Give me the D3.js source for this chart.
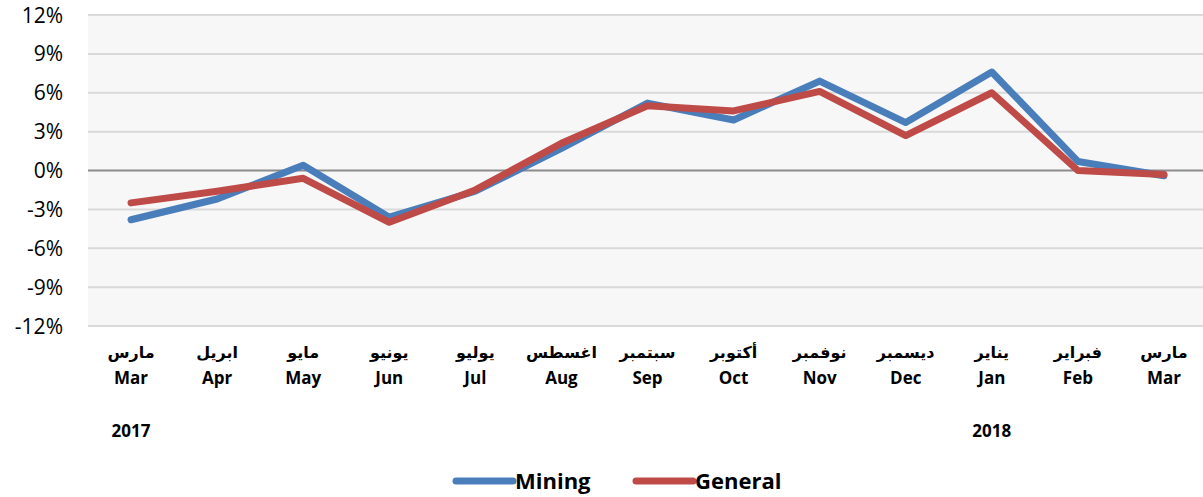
<!DOCTYPE html>
<meta charset="utf-8">
<style>
body { margin: 0; background: #fff; }
svg text { font-family: "Open Sans", "Liberation Sans", sans-serif; fill: #000; }
.grid line { stroke: #d9d9d9; stroke-width: 2; }
</style>
<body>
<script src="https://d3js.org/d3.v7.min.js"></script>
<script>
// data
const monthsEn = ["Mar", "Apr", "May", "Jun", "Jul", "Aug", "Sep", "Oct", "Nov", "Dec", "Jan", "Feb", "Mar"];
const monthsAr = ["مارس", "ابريل", "مايو", "يونيو", "يوليو", "اغسطس", "سبتمبر", "أكتوبر", "نوفمبر", "ديسمبر", "يناير", "فبراير", "مارس"];
const mining  = [-3.8, -2.2, 0.4, -3.6, -1.6, 1.7, 5.2, 3.9, 6.9, 3.7, 7.6, 0.7, -0.4];
const general = [-2.5, -1.6, -0.6, -4.0, -1.5, 2.1, 5.0, 4.6, 6.1, 2.7, 6.0, 0.0, -0.3];
const yTicks = [-12, -9, -6, -3, 0, 3, 6, 9, 12];
const years = [{label: "2017", idx: 0}, {label: "2018", idx: 10}];

const plotVars = ({
  width: 1203, height: 497,
  left: 88, right: 1207, top: 15, bottom: 326
});

const svg = d3.select("body").append("svg")
  .attr("width", plotVars.width).attr("height", plotVars.height);

const idx = d3.range(monthsEn.length);
const x = d3.scaleBand().domain(idx).range([plotVars.left, plotVars.right]);
const y = d3.scaleLinear().domain([-12, 12]).range([plotVars.bottom, plotVars.top]);
const cx = i => x(i) + x.bandwidth() / 2;

// plot background
svg.append("rect")
  .attr("x", plotVars.left).attr("y", plotVars.top - 1)
  .attr("width", plotVars.width - plotVars.left)
  .attr("height", plotVars.bottom - plotVars.top + 2)
  .attr("fill", "#f7f7f7");

// gridlines
svg.append("g").attr("class", "grid")
  .selectAll("line").data(yTicks).join("line")
  .attr("x1", plotVars.left).attr("x2", plotVars.width)
  .attr("y1", d => y(d)).attr("y2", d => y(d))
  .style("stroke", d => d === 0 ? "#8c8c8c" : null);

// y labels
svg.append("g").selectAll("text").data(yTicks).join("text")
  .attr("x", 63).attr("y", d => y(d))
  .attr("dy", "0.36em")
  .attr("text-anchor", "end")
  .style("font-size", "21px")
  .text(d => d + "%");

// x labels, arabic over english
const xl = svg.append("g").selectAll("g").data(idx).join("g")
  .attr("transform", i => `translate(${cx(i)},0)`);
xl.append("text")
  .attr("y", 358).attr("text-anchor", "middle")
  .style("font-size", "16px").style("font-weight", "bold")
  .style("font-family", "'DejaVu Sans', sans-serif")
  .text(i => monthsAr[i]);
xl.append("text")
  .attr("y", 384).attr("text-anchor", "middle")
  .style("font-size", "17px").style("font-weight", "bold")
  .text(i => monthsEn[i]);

svg.append("g").selectAll("text").data(years).join("text")
  .attr("x", d => cx(d.idx)).attr("y", 437)
  .attr("text-anchor", "middle")
  .style("font-size", "17px").style("font-weight", "bold")
  .text(d => d.label);

// lines
const line = d3.line().x((d, i) => cx(i)).y(d => y(d));
const series = [
  {name: "Mining", values: mining, color: "#4a7ebb"},
  {name: "General", values: general, color: "#be4b48"}
];
svg.append("g").selectAll("path").data(series).join("path")
  .attr("d", d => line(d.values))
  .attr("fill", "none")
  .attr("stroke", d => d.color)
  .attr("stroke-width", 7)
  .attr("stroke-linejoin", "round")
  .attr("stroke-linecap", "round");

// legend
const lg = svg.append("g").selectAll("g").data(series).join("g")
  .attr("transform", (d, i) => `translate(${456 + i * 180},481)`);
lg.append("line")
  .attr("x1", 0).attr("x2", 57)
  .attr("stroke", d => d.color).attr("stroke-width", 7)
  .attr("stroke-linecap", "round");
lg.append("text")
  .attr("x", 59).attr("dy", "0.36em")
  .style("font-size", "22px").style("font-weight", "bold")
  .text(d => d.name);
</script>
</body>
